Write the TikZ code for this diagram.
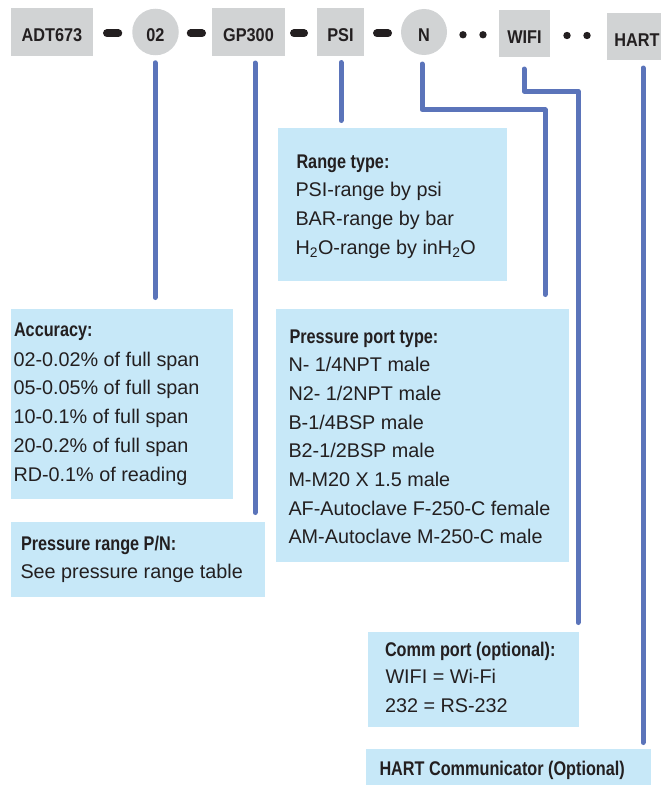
\documentclass[tikz,border=0pt]{standalone}
\usepackage{graphicx}
\usepackage{fontspec}
\setmainfont{Liberation Sans}
\usetikzlibrary{calc}
\definecolor{boxgrey}{RGB}{209,211,212}
\definecolor{notebg}{RGB}{199,232,248}
\definecolor{linkblue}{RGB}{91,116,186}
\definecolor{ink}{RGB}{35,31,32}
\newcommand{\hdrtxt}[1]{\scalebox{0.82}[1]{\bfseries #1}}
\newcommand{\codetxt}[1]{\scalebox{0.88}[1]{\bfseries #1}}
\begin{document}
\begin{tikzpicture}[x=1bp,y=-1bp,
  every node/.style={text=ink,inner sep=0pt,outer sep=0pt},
  codebox/.style={fill=boxgrey,rectangle,anchor=center,text height=19.4bp,text depth=0pt,
    font=\fontsize{18.5bp}{22bp}\selectfont},
  codecirc/.style={fill=boxgrey,circle,anchor=center,text height=19.4bp,text depth=0pt,
    font=\fontsize{18.5bp}{22bp}\selectfont},
  notebox/.style={fill=notebg,rectangle,anchor=north west},
  hdr/.style={anchor=base west,font=\fontsize{19.8bp}{29bp}\selectfont},
  body/.style={anchor=base west,font=\fontsize{19.8bp}{29bp}\selectfont},
  conn/.style={draw=linkblue,line width=5bp,line cap=round,line join=round},
  sepdash/.style={draw=ink,line width=8bp,line cap=round},
  sepdot/.style={fill=ink}]
\useasboundingbox (0,0) rectangle (661,785);

% code row
\node[codebox,minimum width=82bp,minimum height=48bp] (adt) at (52,32) {\codetxt{ADT673}};
\node[codecirc,minimum size=46.5bp] (o2) at (155.5,32) {\codetxt{02}};
\node[codebox,minimum width=73bp,minimum height=48bp] (gp) at (248.5,32) {\codetxt{GP300}};
\node[codebox,minimum width=47bp,minimum height=48bp] (psi) at (340.5,32) {\codetxt{PSI}};
\node[codecirc,minimum size=46bp] (n) at (424,32) {\codetxt{N}};
\node[codebox,minimum width=51bp,minimum height=47bp] (wifi) at (524.5,33.5) {\codetxt{WIFI}};
\node[codebox,minimum width=60bp,minimum height=46bp] (hart) at (637,36.5) {\codetxt{HART}};

% separators
\draw[sepdash,shorten <=14bp,shorten >=14bp] ([yshift=-1.3bp]adt.east) -- ([yshift=-1.3bp]o2.west);
\draw[sepdash,shorten <=12bp,shorten >=10bp] ([yshift=-1.3bp]o2.east) -- ([yshift=-1.3bp]gp.west);
\draw[sepdash,shorten <=9bp,shorten >=13bp] ([yshift=-1.3bp]gp.east) -- ([yshift=-1.3bp]psi.west);
\draw[sepdash,shorten <=13bp,shorten >=13bp] ([yshift=-1.3bp]psi.east) -- ([yshift=-1.3bp]n.west);
\fill[sepdot] ($(n.east)!0.5!(wifi.west)+(-10,2)$) circle (3.7);
\fill[sepdot] ($(n.east)!0.5!(wifi.west)+(10,2)$) circle (3.7);
\fill[sepdot] ($(wifi.east)!0.5!(hart.west)+(-11.5,0.5)$) circle (3.7);
\fill[sepdot] ($(wifi.east)!0.5!(hart.west)+(8.5,0.5)$) circle (3.7);

% note boxes
\node[notebox,minimum width=229bp,minimum height=153bp] (rangebox) at (278,128) {};
\node[notebox,minimum width=222bp,minimum height=190bp] (accbox) at (11,309) {};
\node[notebox,minimum width=293bp,minimum height=253bp] (portbox) at (276,309) {};
\node[notebox,minimum width=254bp,minimum height=75bp] (prbox) at (11,522) {};
\node[notebox,minimum width=211bp,minimum height=95bp] (commbox) at (368,632) {};
\node[notebox,minimum width=285bp,minimum height=45bp] (hartbox) at (366,749) {};

% range type
\node[hdr] (range-h) at (296.5,168) {\hdrtxt{Range type:}};
\foreach \t [count=\i] in {PSI-range by psi,BAR-range by bar,{H\textsubscript{2}O-range by inH\textsubscript{2}O}}
  \node[body] (range-\i) at (295.5,{196+29*(\i-1)}) {\t};

% accuracy
\node[hdr] (acc-h) at (14,336.5) {\hdrtxt{Accuracy:}};
\foreach \t [count=\i] in {02-0.02\% of full span,05-0.05\% of full span,10-0.1\% of full span,20-0.2\% of full span,RD-0.1\% of reading}
  \node[body] (acc-\i) at (13.5,{366+28.75*(\i-1)}) {\t};

% pressure port
\node[hdr] (port-h) at (289.5,343) {\hdrtxt{Pressure port type:}};
\foreach \t [count=\i] in {N- 1/4NPT male,N2- 1/2NPT male,B-1/4BSP male,B2-1/2BSP male,M-M20 X 1.5 male,AF-Autoclave F-250-C female,AM-Autoclave M-250-C male}
  \node[body] (port-\i) at (288.5,{371.7+28.7*(\i-1)}) {\t};

% pressure range
\node[hdr] (pr-h) at (21,550) {\hdrtxt{Pressure range P/N:}};
\node[body] (pr-1) at (20.5,578) {See pressure range table};

% comm port
\node[hdr] (comm-h) at (385,656) {\hdrtxt{Comm port (optional):}};
\node[body] (comm-1) at (385.5,683) {WIFI = Wi-Fi};
\node[body] (comm-2) at (385,712) {232 = RS-232};

% hart
\node[hdr] (hart-h) at (379.5,775) {\hdrtxt{HART Communicator (Optional)}};

% bend points
\coordinate (nbend) at (545,109.7);
\coordinate (nend) at (545,294.5);
\coordinate (wbend) at (578,91);
\coordinate (wend) at (578,622.5);

% connectors
\draw[conn] ($(o2.south)+(-0.5,7.5)$) -- ($(o2.south |- accbox.north)+(-0.5,-11.5)$);
\draw[conn] ($(gp.south)+(6.5,7)$) -- ($(gp.south |- prbox.north)+(6.5,-9.5)$);
\draw[conn] ($(psi.south)+(0.5,6.5)$) -- ($(psi.south |- rangebox.north)+(0.5,-7.5)$);
\draw[conn] ($(n.south)+(-2,9)$) |- (nbend) -- (nend);
\draw[conn] ($(wifi.south)+(-0.5,12)$) |- (wbend) -- (wend);
\draw[conn] ($(hart.south)+(6,8.5)$) -- ($(hart.south |- hartbox.north)+(6,-6.5)$);
\end{tikzpicture}
\end{document}
